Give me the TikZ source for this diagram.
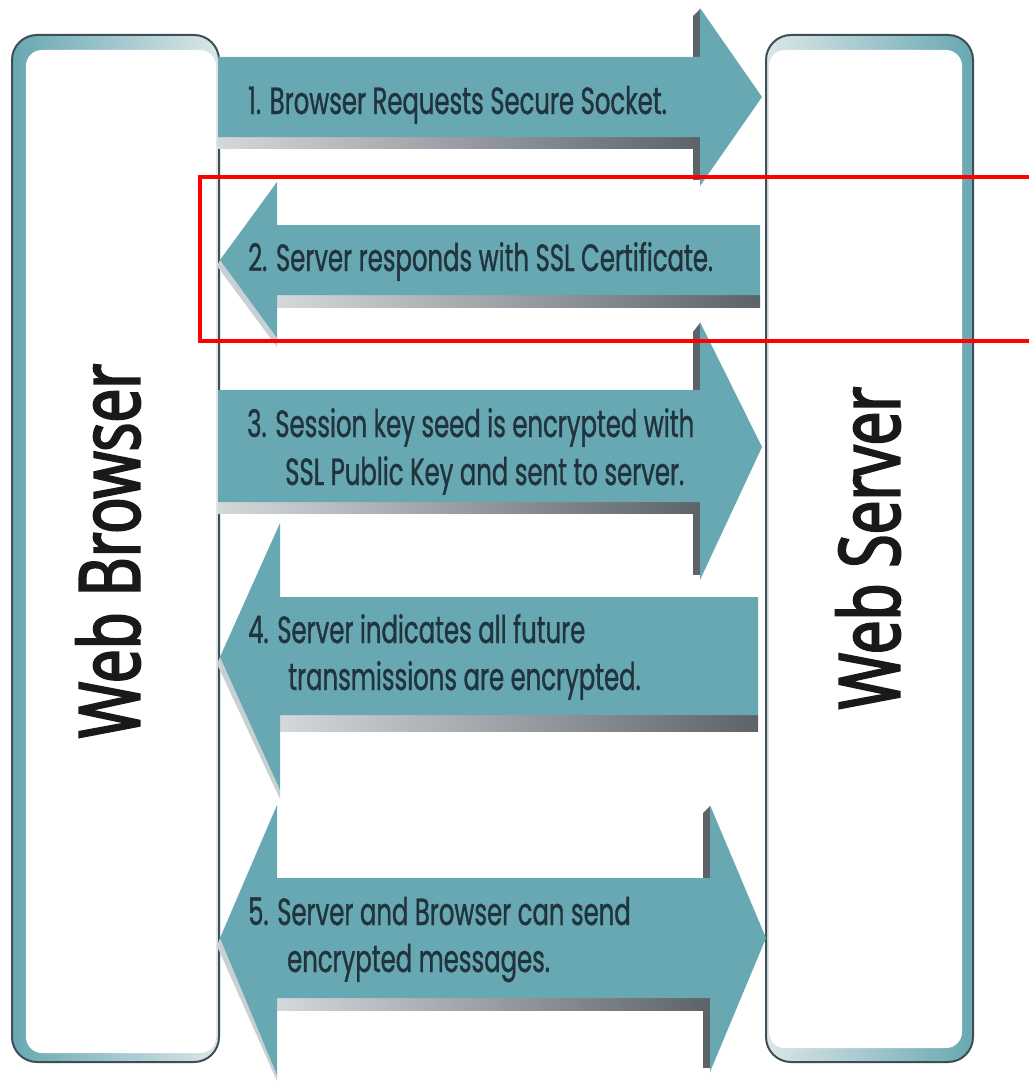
\documentclass[tikz,border=0pt]{standalone}
\usepackage{fontspec}
\newfontfamily\arrowfont{Poppins}[FakeStretch=0.64, FakeBold=0.9]
\newfontfamily\labelfont{Open Sans}[FakeStretch=0.72, FakeBold=2.6]
\definecolor{tealfill}{HTML}{68A8B2}
\definecolor{teallight}{HTML}{DCE6E8}
\definecolor{shadowdark}{HTML}{5C6369}
\definecolor{shadowlight}{HTML}{D3D8DB}
\definecolor{headlight}{HTML}{C9D0D4}
\definecolor{boxline}{HTML}{3E4E56}
\definecolor{txtcol}{HTML}{21343D}
\tikzset{
  arrowbody/.style={fill=tealfill},
  bodyshadow/.style={left color=shadowlight, right color=shadowdark},
  headshadow/.style={fill=shadowdark},
  headhi/.style={fill=headlight},
  steptext/.style={anchor=base west, inner sep=0pt, text=txtcol, font=\arrowfont\fontsize{38}{40}\selectfont},
  biglabel/.style={inner sep=0pt, text=black!90, font=\labelfont\fontsize{84}{86}\selectfont},
  boxframe/.style={draw=boxline, line width=2pt, rounded corners=25pt},
  annot/.style={draw=red, line width=4pt}
}
\begin{document}
\begin{tikzpicture}[x=1pt,y=-1pt]
\useasboundingbox (0,0) rectangle (1028,1081);
\fill[white] (0,0) rectangle (1028,1081);

% Web Browser box
\fill[left color=tealfill, right color=teallight, rounded corners=25pt] (12,35) rectangle (219,1062);
\fill[white, rounded corners=16pt] (26,50) rectangle (216,1053);
\draw[boxframe] (12,35) rectangle (219,1062);
% Web Server box
\fill[left color=teallight, right color=tealfill, rounded corners=25pt] (766,35) rectangle (973,1062);
\fill[white, rounded corners=16pt] (769,50) rectangle (962,1048);
\draw[boxframe] (766,35) rectangle (973,1062);

\node[biglabel, rotate=90] (wb) at (108,551) {Web Browser};
\node[biglabel, rotate=90] (ws) at (868,548) {Web Server};

% Arrow 1 (right)
\fill[bodyshadow] (218,137) rectangle (700,148);
\fill[headshadow] (693,16) -- (700,9) -- (700,57) -- (693,57) -- cycle;
\fill[headshadow] (693,137) rectangle (700,180);
\fill[arrowbody] (218,57) -- (700,57) -- (700,8) -- (762,97) -- (700,186) -- (700,137) -- (218,137) -- cycle;

% Arrow 2 (left)
\fill[bodyshadow] (277,295) rectangle (760,307);
\fill[headhi] (220,260) -- (277,338) -- (277,347) -- (217,266) -- cycle;
\fill[arrowbody] (760,225) -- (277,225) -- (277,182) -- (220,260) -- (277,338) -- (277,295) -- (760,295) -- cycle;

% Arrow 3 (right)
\fill[bodyshadow] (218,502) rectangle (700,513);
\fill[headshadow] (693,332) -- (700,323) -- (700,390) -- (693,390) -- cycle;
\fill[headshadow] (693,513) rectangle (700,575);
\fill[arrowbody] (218,390) -- (700,390) -- (700,322) -- (762,447) -- (700,580) -- (700,502) -- (218,502) -- cycle;

% Arrow 4 (left)
\fill[bodyshadow] (280,715) rectangle (758,731);
\fill[headhi] (220,657) -- (280,790) -- (280,799) -- (217,664) -- cycle;
\fill[arrowbody] (758,597) -- (280,597) -- (280,523) -- (220,657) -- (280,790) -- (280,715) -- (758,715) -- cycle;

% Arrow 5 (both ways)
\fill[bodyshadow] (277,998) rectangle (710,1010);
\fill[headshadow] (703,813) -- (710,806) -- (710,878) -- (703,878) -- cycle;
\fill[headshadow] (703,1010) rectangle (710,1068);
\fill[headhi] (220,938) -- (277,1075) -- (277,1081) -- (217,946) -- cycle;
\fill[arrowbody] (277,878) -- (710,878) -- (710,805) -- (766,938) -- (710,1072) -- (710,998) -- (277,998) -- (277,1075) -- (220,938) -- (277,805) -- cycle;

% Texts
\node[steptext] (t1) at (248,114) {1. Browser Requests Secure Socket.};
\node[steptext] (t2) at (248,271) {2. Server responds with SSL Certificate.};
\node[steptext] (t3a) at (247,437) {3. Session key seed is encrypted with};
\node[steptext] (t3b) at (285,485) {SSL Public Key and sent to server.};
\node[steptext] (t4a) at (248,643) {4. Server indicates all future};
\node[steptext] (t4b) at (288,690) {transmissions are encrypted.};
\node[steptext] (t5a) at (248,925) {5. Server and Browser can send};
\node[steptext] (t5b) at (287,972) {encrypted messages.};

% red annotation (open on the right, running off the picture)
\draw[annot] (1034,177) -- (200,177) -- (200,341) -- (1034,341);
\end{tikzpicture}
\end{document}
